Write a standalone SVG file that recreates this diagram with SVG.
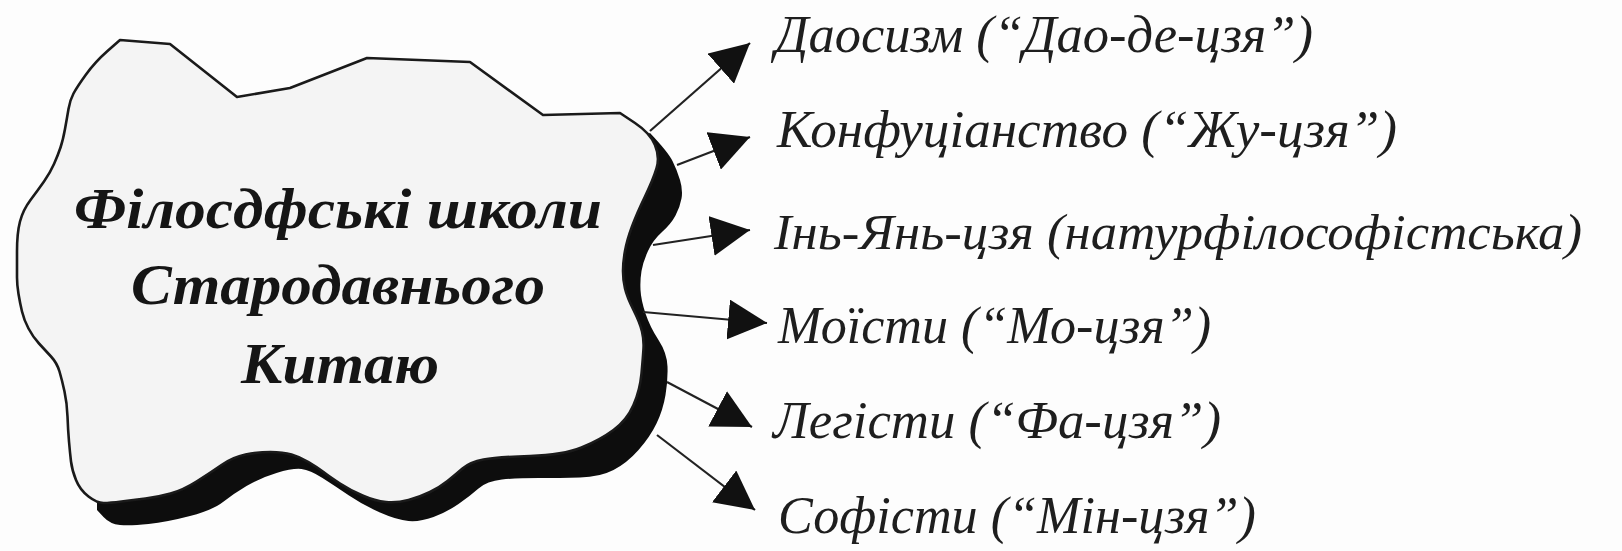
<svg xmlns="http://www.w3.org/2000/svg" width="1622" height="551" viewBox="0 0 1622 551">
<style>
.title{font-family:"Liberation Serif","Times New Roman",serif;font-weight:bold;font-style:italic;font-size:56px;fill:#151515;}
.lbl{font-family:"Liberation Serif","Times New Roman",serif;font-style:italic;font-size:52px;fill:#1e1e1e;}
.conn{stroke:#222;stroke-width:2.2;fill:none;}
</style>
<defs>
<marker id="ah" markerUnits="userSpaceOnUse" markerWidth="40" markerHeight="40" refX="35" refY="18" orient="auto" viewBox="0 0 36 36">
<path d="M0,0 L35,18 L0,36 Z" fill="#111"/>
</marker>
</defs>
<rect width="1622" height="551" fill="#fdfdfd"/>
<g id="cloud">
<path id="cloud-shadow" fill="#0d0d0d" d="M650,133 Q668,152 672.5,161 Q677,170 680,180 Q683,190 681.5,198.5 Q680,207 675.5,215.5 Q671,224 662,232 Q653,240 648,251 Q643,262 641.5,271 Q640,280 640.5,290 Q641,300 645.5,313.5 Q650,327 658.5,340 Q667,353 667.5,366.5 Q668,380 665.5,395 Q663,410 656.5,423.5 Q650,437 638.5,450 Q627,463 613.5,470 Q600,477 580,477.5 Q560,478 538.5,478 Q517,478 502,479.5 Q487,481 478.5,488.5 Q470,496 458.5,504 Q447,512 433.5,517 Q420,522 408.5,521 Q397,520 380,512.5 Q363,505 349,495.5 Q335,486 322.5,478 Q310,470 301.5,469 Q293,468 276.5,473 Q260,478 246.5,486 Q233,494 223,502 Q213,510 190,516 Q167,522 148.5,524 Q130,526 120,525 Q110,524 103.5,517 L97,510 L97,503 L300,300 Z"/>
<path id="cloud-body" fill="#f4f4f4" stroke="#1a1a1a" stroke-width="2.6" stroke-linejoin="round" d="M120,40 L170,44 L237,97 L290,88 L367,58 L470,62 L543,115 L620,113 L635,123 Q650,133 655,145 Q660,157 656.5,168.5 Q653,180 645,196.5 Q637,213 632,226.5 Q627,240 625,251 Q623,262 623,271 Q623,280 625,288.5 Q627,297 633.5,310 Q640,323 642,331.5 Q644,340 643.5,348.5 Q643,357 641.5,373.5 Q640,390 633.5,405 Q627,420 613.5,430 Q600,440 581.5,447.5 Q563,455 530,456 Q497,457 483.5,459.5 Q470,462 462.5,468.5 Q455,475 447.5,481 Q440,487 430,492 Q420,497 408.5,500 Q397,503 386,502 Q375,501 362.5,495.5 Q350,490 340,483.5 Q330,477 323.5,472 Q317,467 308.5,462 Q300,457 291.5,454.5 Q283,452 270.5,452 Q258,452 245.5,454.5 Q233,457 221.5,465 Q210,473 196.5,481.5 Q183,490 170.5,493.5 Q158,497 145.5,498.5 Q133,500 121.5,501.5 Q110,503 103.5,503 Q97,503 88.5,496.5 Q80,490 76,480 Q72,470 71,461.5 Q70,453 69,441.5 Q68,430 67.5,416.5 Q67,403 64.5,391.5 Q62,380 59.5,371.5 Q57,363 51,356.5 Q45,350 39,343.5 Q33,337 28.5,328.5 Q24,320 22,311.5 Q20,303 18.5,294 Q17,285 17,277.5 Q17,270 17,251.5 Q17,233 20,221.5 Q23,210 30.5,200 Q38,190 44,181.5 Q50,173 54,164 Q58,155 60.5,147.5 Q63,140 65,129 Q67,118 68.5,109 Q70,100 73.5,93.5 Q77,87 86,74.5 Q95,62 107.5,51 L120,40 Z"/>
<text class="title" x="338" y="228" text-anchor="middle" textLength="528" lengthAdjust="spacingAndGlyphs">Філосдфські школи</text>
<text class="title" x="338" y="304" text-anchor="middle" textLength="414" lengthAdjust="spacingAndGlyphs">Стародавнього</text>
<text class="title" x="340" y="383" text-anchor="middle" textLength="198" lengthAdjust="spacingAndGlyphs">Китаю</text>
</g>
<g id="connectors">
<line class="conn" x1="650" y1="131" x2="750" y2="43" marker-end="url(#ah)"/>
<line class="conn" x1="677" y1="165" x2="750" y2="137" marker-end="url(#ah)"/>
<line class="conn" x1="653" y1="245" x2="750" y2="230" marker-end="url(#ah)"/>
<line class="conn" x1="643" y1="312" x2="767" y2="323" marker-end="url(#ah)"/>
<line class="conn" x1="667" y1="382" x2="752" y2="427" marker-end="url(#ah)"/>
<line class="conn" x1="657" y1="435" x2="755" y2="510" marker-end="url(#ah)"/>
</g>
<g id="n1"><text class="lbl" x="775" y="52" textLength="538" lengthAdjust="spacingAndGlyphs">Даосизм (“Дао-де-цзя”)</text></g>
<g id="n2"><text class="lbl" x="777" y="147" textLength="620" lengthAdjust="spacingAndGlyphs">Конфуціанство (“Жу-цзя”)</text></g>
<g id="n3"><text class="lbl" x="774" y="249" style="font-size:51px" textLength="808" lengthAdjust="spacingAndGlyphs">Інь-Янь-цзя (натурфілософістська)</text></g>
<g id="n4"><text class="lbl" x="778" y="343" textLength="433" lengthAdjust="spacingAndGlyphs">Моїсти (“Мо-цзя”)</text></g>
<g id="n5"><text class="lbl" x="773" y="438" textLength="448" lengthAdjust="spacingAndGlyphs">Легісти (“Фа-цзя”)</text></g>
<g id="n6"><text class="lbl" x="778" y="533" textLength="478" lengthAdjust="spacingAndGlyphs">Софісти (“Мін-цзя”)</text></g>
</svg>
